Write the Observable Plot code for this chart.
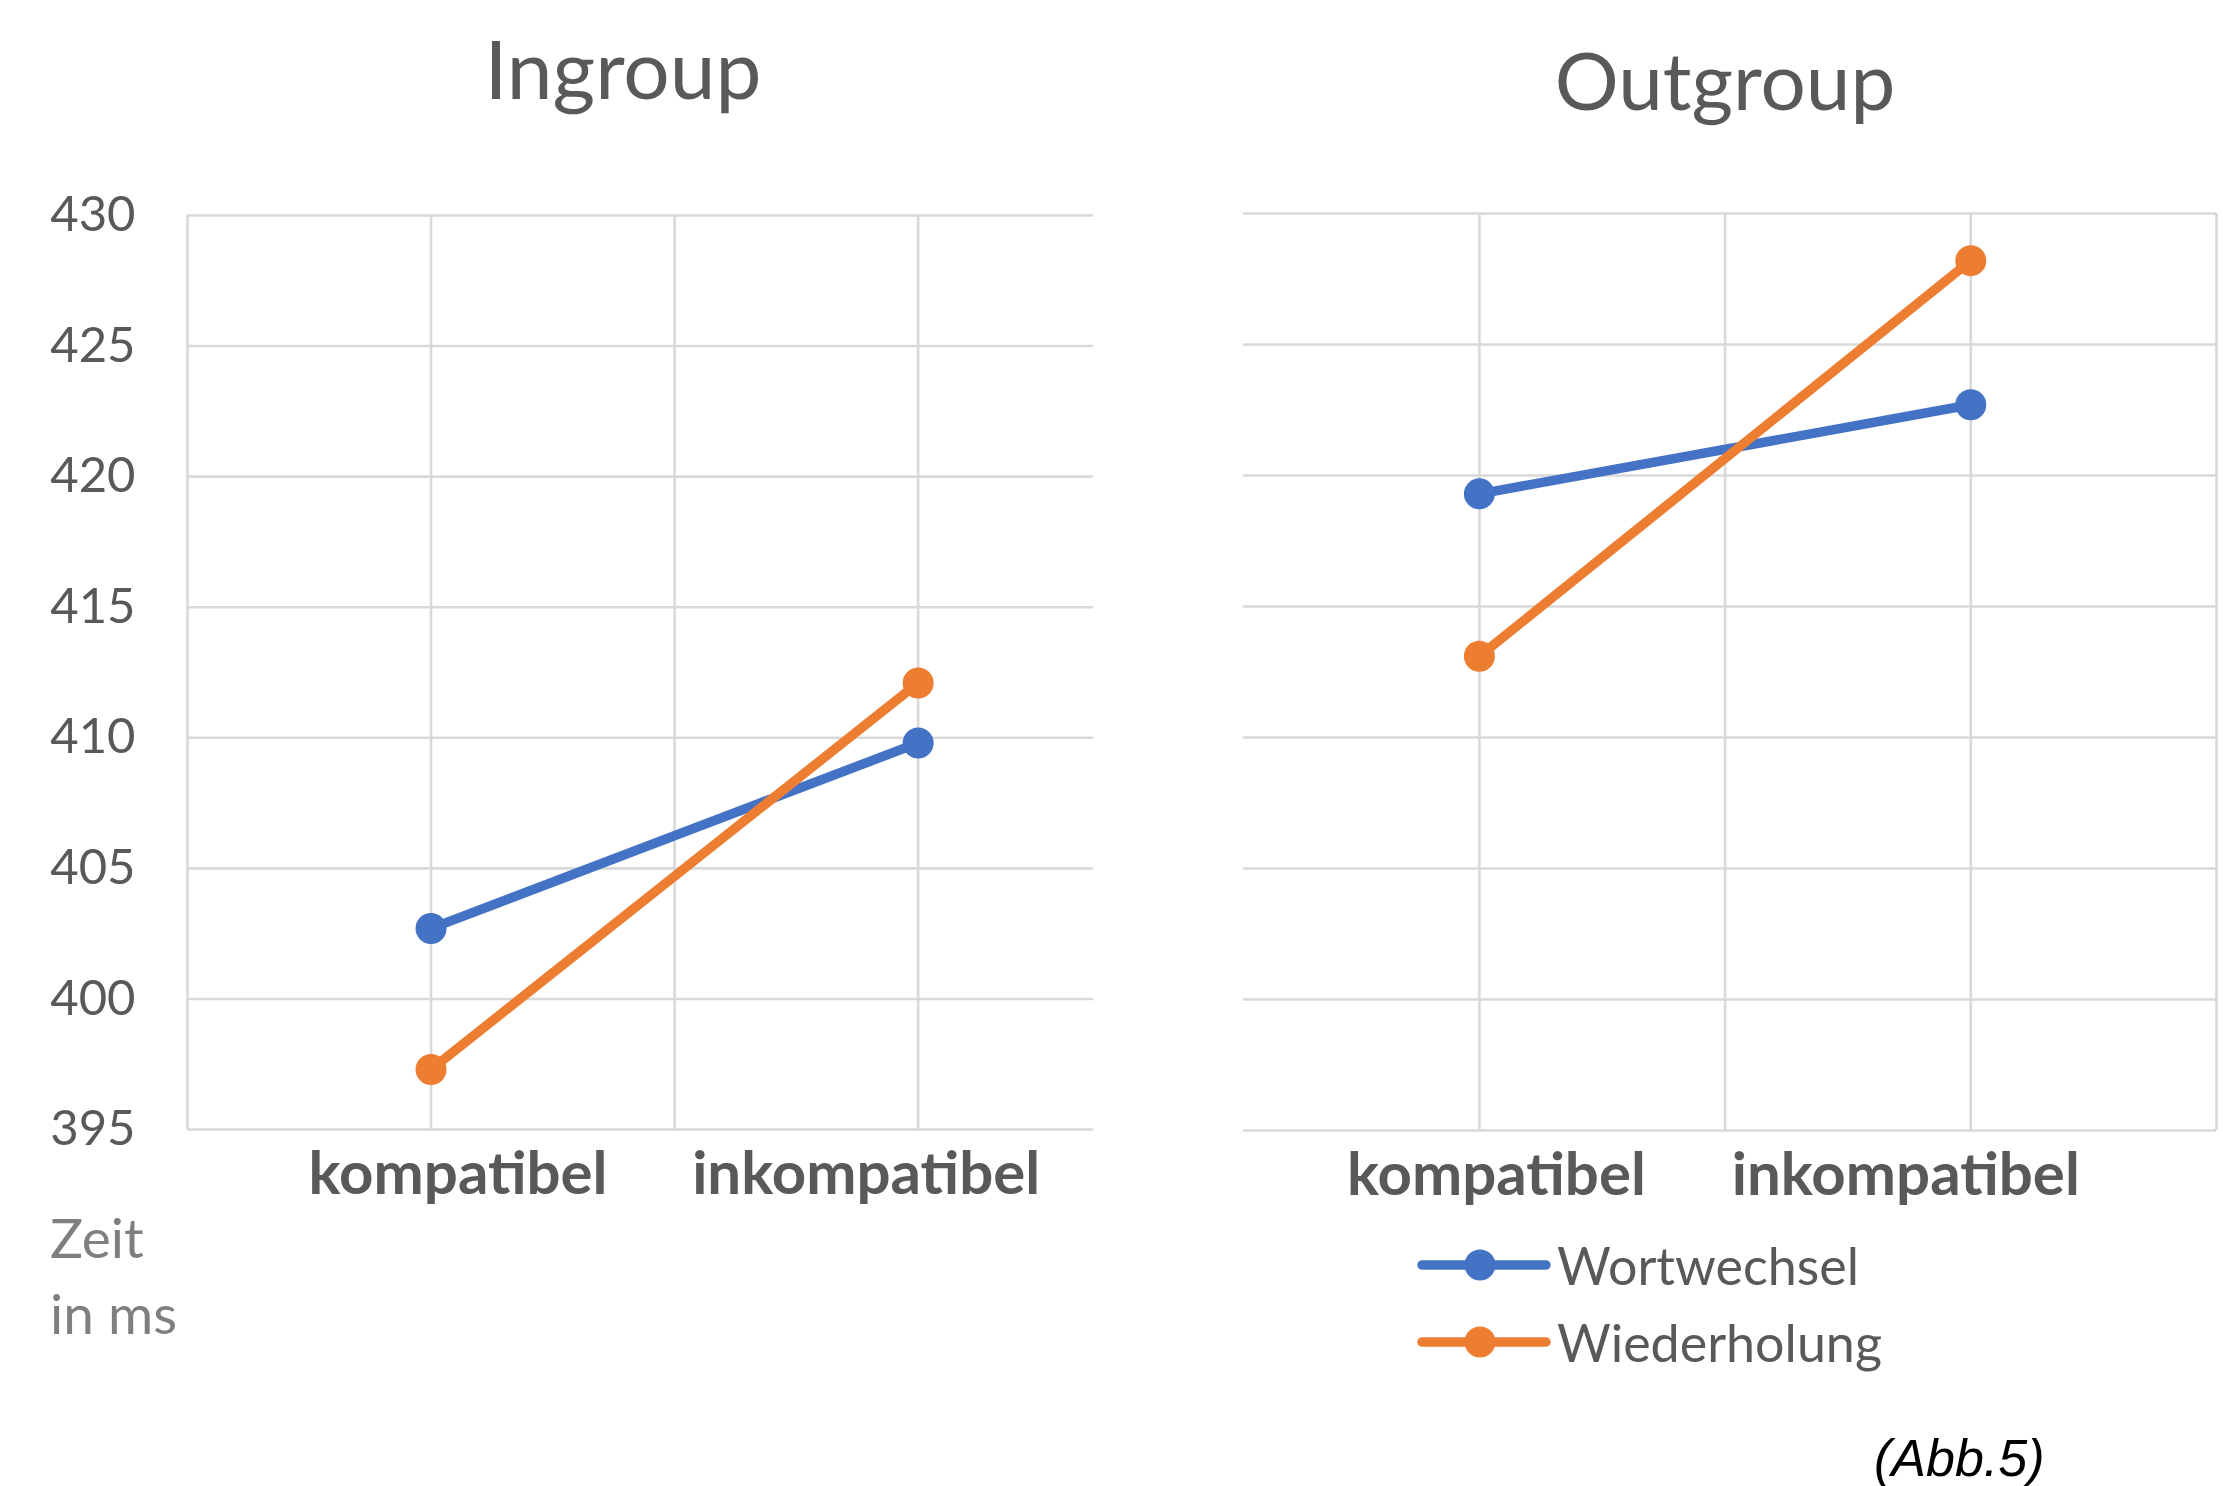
<!DOCTYPE html>
<html>
<head>
<meta charset="utf-8">
<script src="https://cdn.jsdelivr.net/npm/d3@7"></script>
<script src="https://cdn.jsdelivr.net/npm/@observablehq/plot@0.6"></script>
<style>
  html, body { margin: 0; padding: 0; background: #ffffff; }
  #root { position: relative; width: 2223px; height: 1486px; overflow: hidden; background: #ffffff; font-family: Lato, "Open Sans", sans-serif; }
  .panel { position: absolute; top: 0; }
  #overlay { position: absolute; left: 0; top: 0; }
</style>
</head>
<body>
<div id="root">
  <div id="left" class="panel" style="left:0px"></div>
  <div id="right" class="panel" style="left:1112px"></div>
  <svg id="overlay" width="2223" height="1486"></svg>
</div>
<script>
// ---- data ----
const panelTitles = ["Ingroup", "Outgroup"];
const categories = ["kompatibel", "inkompatibel"];
const series = ["Wortwechsel", "Wiederholung"];
const ingroupWortwechsel = [402.7, 409.8];
const ingroupWiederholung = [397.3, 412.1];
const outgroupWortwechsel = [419.3, 422.7];
const outgroupWiederholung = [413.1, 428.2];
const yTicks = [395, 400, 405, 410, 415, 420, 425, 430];
const yAxisLabel = ["Zeit", "in ms"];
const captionText = "(Abb.5)";
const seriesColors = ["#4472C4", "#ED7D31"];

// ---- helpers ----
const GRID = "#d9d9d9";
const TEXT = "#595959";
const catX = i => 1 + 2 * i; // categories sit on the 1st and 3rd vertical gridline

function rowsFor(valuesBySeries) {
  return series.flatMap((s, si) =>
    categories.map((c, ci) => ({series: s, category: c, ci, value: valuesBySeries[si][ci]})));
}

function panel({rows, xDomain, gridXTicks, marginLeft, marginRight, marginTop, marginBottom, width, showY, labelDx}) {
  const marks = [
    Plot.gridX(gridXTicks, {stroke: GRID, strokeOpacity: 1, strokeWidth: 2.6}),
    Plot.gridY(yTicks, {stroke: GRID, strokeOpacity: 1, strokeWidth: 2.6}),
  ];
  if (showY) {
    marks.push(Plot.axisY(yTicks, {label: null, tickSize: 0, tickPadding: 52, fontSize: 49, fill: TEXT, fontFamily: "Lato"}));
  }
  marks.push(
    Plot.line(rows, {x: d => catX(d.ci), y: "value", z: "series", stroke: "series", strokeWidth: 9.5, strokeLinecap: "round"}),
    Plot.dot(rows, {x: d => catX(d.ci), y: "value", fill: "series", r: 15.5})
  );
  categories.forEach((c, ci) => {
    marks.push(Plot.text([c], {
      x: () => catX(ci), text: d => d, frameAnchor: "bottom", lineAnchor: "top",
      dy: 22, dx: labelDx[ci], fontSize: 60, fontWeight: 700, fill: TEXT, fontFamily: "Lato"
    }));
  });
  return Plot.plot({
    width, height: 1260,
    marginLeft, marginRight, marginTop, marginBottom,
    x: {domain: xDomain, axis: null},
    y: {domain: [yTicks[0], yTicks[yTicks.length - 1]], axis: null},
    color: {domain: series, range: seriesColors},
    style: {fontFamily: "Lato", background: "transparent", overflow: "visible"},
    marks
  });
}

document.getElementById("left").appendChild(panel({
  rows: rowsFor([ingroupWortwechsel, ingroupWiederholung]),
  xDomain: [0, 3.72], gridXTicks: [0, 1, 2, 3],
  width: 1112, marginLeft: 187, marginRight: 19, marginTop: 215, marginBottom: 131,
  showY: true, labelDx: [27, -52]
}));

document.getElementById("right").appendChild(panel({
  rows: rowsFor([outgroupWortwechsel, outgroupWiederholung]),
  xDomain: [0.04, 4], gridXTicks: [1, 2, 3, 4],
  width: 1111, marginLeft: 131, marginRight: 7, marginTop: 213, marginBottom: 130,
  showY: false, labelDx: [17, -65]
}));

// ---- titles, axis label, legend, caption ----
const ov = d3.select("#overlay");
const titlePos = [{x: 623, y: 99}, {x: 1725, y: 110}];
panelTitles.forEach((t, i) => {
  ov.append("text").attr("x", titlePos[i].x).attr("y", titlePos[i].y)
    .attr("text-anchor", "middle").attr("font-family", "Lato").attr("font-size", i === 0 ? 82 : 80)
    .attr("fill", TEXT).text(t);
});
yAxisLabel.forEach((t, i) => {
  ov.append("text").attr("x", 50).attr("y", 1258 + i * 76)
    .attr("font-family", "Lato").attr("font-size", 55).attr("fill", "#7f7f7f").text(t);
});
series.forEach((s, i) => {
  const y = 1265 + i * 77;
  const g = ov.append("g");
  g.append("line").attr("x1", 1422).attr("x2", 1546).attr("y1", y).attr("y2", y)
    .attr("stroke", seriesColors[i]).attr("stroke-width", 9.5).attr("stroke-linecap", "round");
  g.append("circle").attr("cx", 1480).attr("cy", y).attr("r", 15.5).attr("fill", seriesColors[i]);
  g.append("text").attr("x", 1557).attr("y", y + 20)
    .attr("font-family", "Lato").attr("font-size", 52).attr("fill", TEXT).text(s);
});
ov.append("text").attr("x", 1874).attr("y", 1476)
  .attr("font-family", "Liberation Sans, Arial, sans-serif").attr("font-style", "italic")
  .attr("font-size", 52).attr("fill", "#000000").text(captionText);
</script>
</body>
</html>
